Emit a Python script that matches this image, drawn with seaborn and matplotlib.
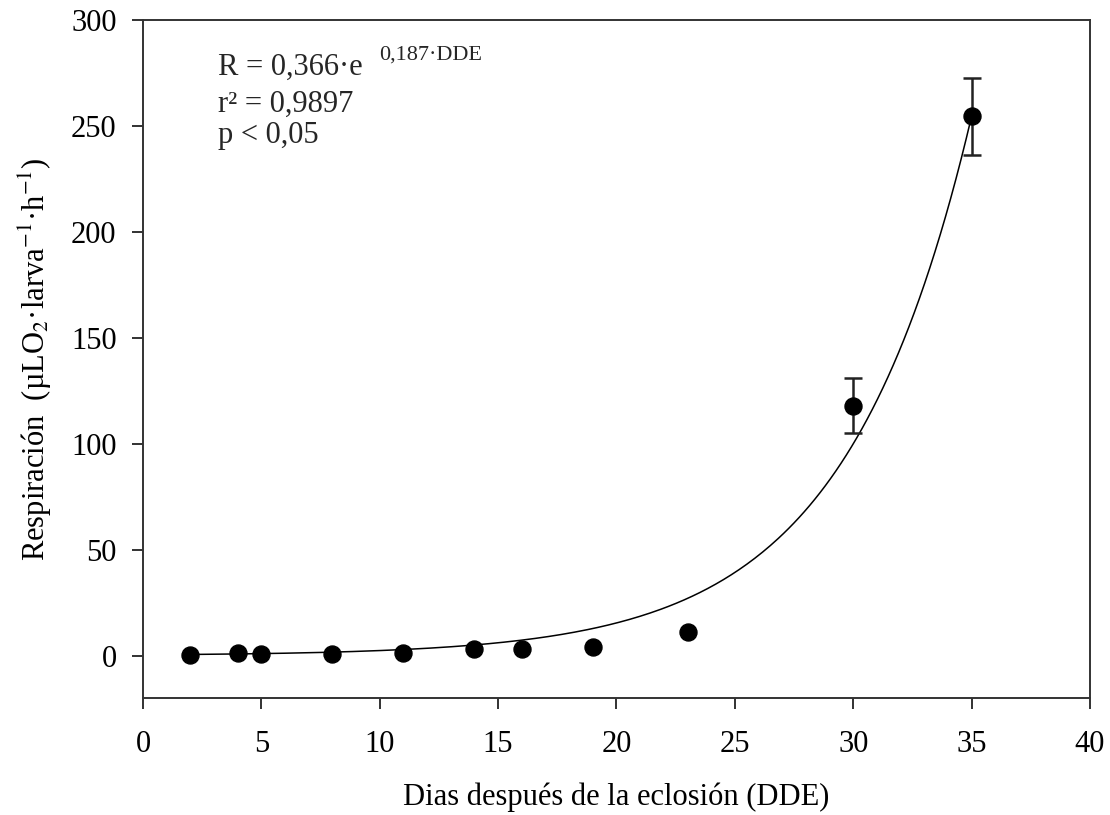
import numpy as np
import pandas as pd
import matplotlib
matplotlib.use("Agg")
import matplotlib.pyplot as plt
import seaborn as sns

# Data
dias = [2, 4, 5, 8, 11, 14, 16, 19, 23, 30, 35]
respiracion = [0.5, 1.0, 0.6, 0.8, 1.2, 3.0, 3.0, 4.0, 11.0, 118.0, 254.5]
error = [0, 0, 0, 0, 0, 0, 0, 0, 0, 13.0, 18.0]

# Fitted model parameters shown in the chart
coef_a = 0.366
coef_b = 0.187
x_ticks = [0, 5, 10, 15, 20, 25, 30, 35, 40]
y_ticks = [0, 50, 100, 150, 200, 250, 300]

sns.set_theme(style="white")
plt.rcParams['font.family'] = ['Liberation Serif', 'DejaVu Serif']
plt.rcParams['mathtext.fontset'] = 'stix'

df = pd.DataFrame({"dias": dias, "resp": respiracion, "err": error})

fig = plt.figure(figsize=(11.1, 8.15), dpi=100)
ax = fig.add_axes([0.1288, 0.1436, 0.8532, 0.8319])

xfit = np.linspace(min(dias), max(dias), 300)
fit = pd.DataFrame({"x": xfit, "y": coef_a * np.exp(coef_b * xfit)})
sns.lineplot(data=fit, x="x", y="y", ax=ax, color="black", linewidth=1.1)

eb = df[df["err"] > 0]
ax.errorbar(eb["dias"], eb["resp"], yerr=eb["err"], fmt="none", ecolor="#222222",
            elinewidth=1.8, capsize=6.5, capthick=1.8, zorder=3)
sns.scatterplot(data=df, x="dias", y="resp", ax=ax, color="black", s=150,
                marker="o", edgecolor="black", zorder=4)

ax.set_xlim(0, 40)
ax.set_ylim(-20, 300)
ax.set_xticks(x_ticks)
ax.set_yticks(y_ticks)
ax.tick_params(axis="both", direction="out", length=8, width=1.3, colors="#222222",
               labelsize=22, labelcolor="black", bottom=True, left=True, pad=11)
ax.tick_params(axis="x", pad=15)
for s in ax.spines.values():
    s.set_color("#333333")
    s.set_linewidth(1.4)

ax.set_xlabel("Dias después de la eclosión (DDE)", fontsize=22, labelpad=17, color="black")
ax.set_ylabel(r"Respiración  (µLO$_2$·larva$^{-1}$·h$^{-1}$)", fontsize=22, labelpad=12, color="black")

ax.text(0.079, 0.919, "R = 0,366·e", transform=ax.transAxes, fontsize=22, va="baseline")
ax.text(0.249, 0.941, "0,187·DDE", transform=ax.transAxes, fontsize=16, va="baseline")
ax.text(0.079, 0.864, "r² = 0,9897", transform=ax.transAxes, fontsize=22, va="baseline")
ax.text(0.079, 0.818, "p < 0,05", transform=ax.transAxes, fontsize=22, va="baseline")

fig.savefig("out.png", dpi=100)
